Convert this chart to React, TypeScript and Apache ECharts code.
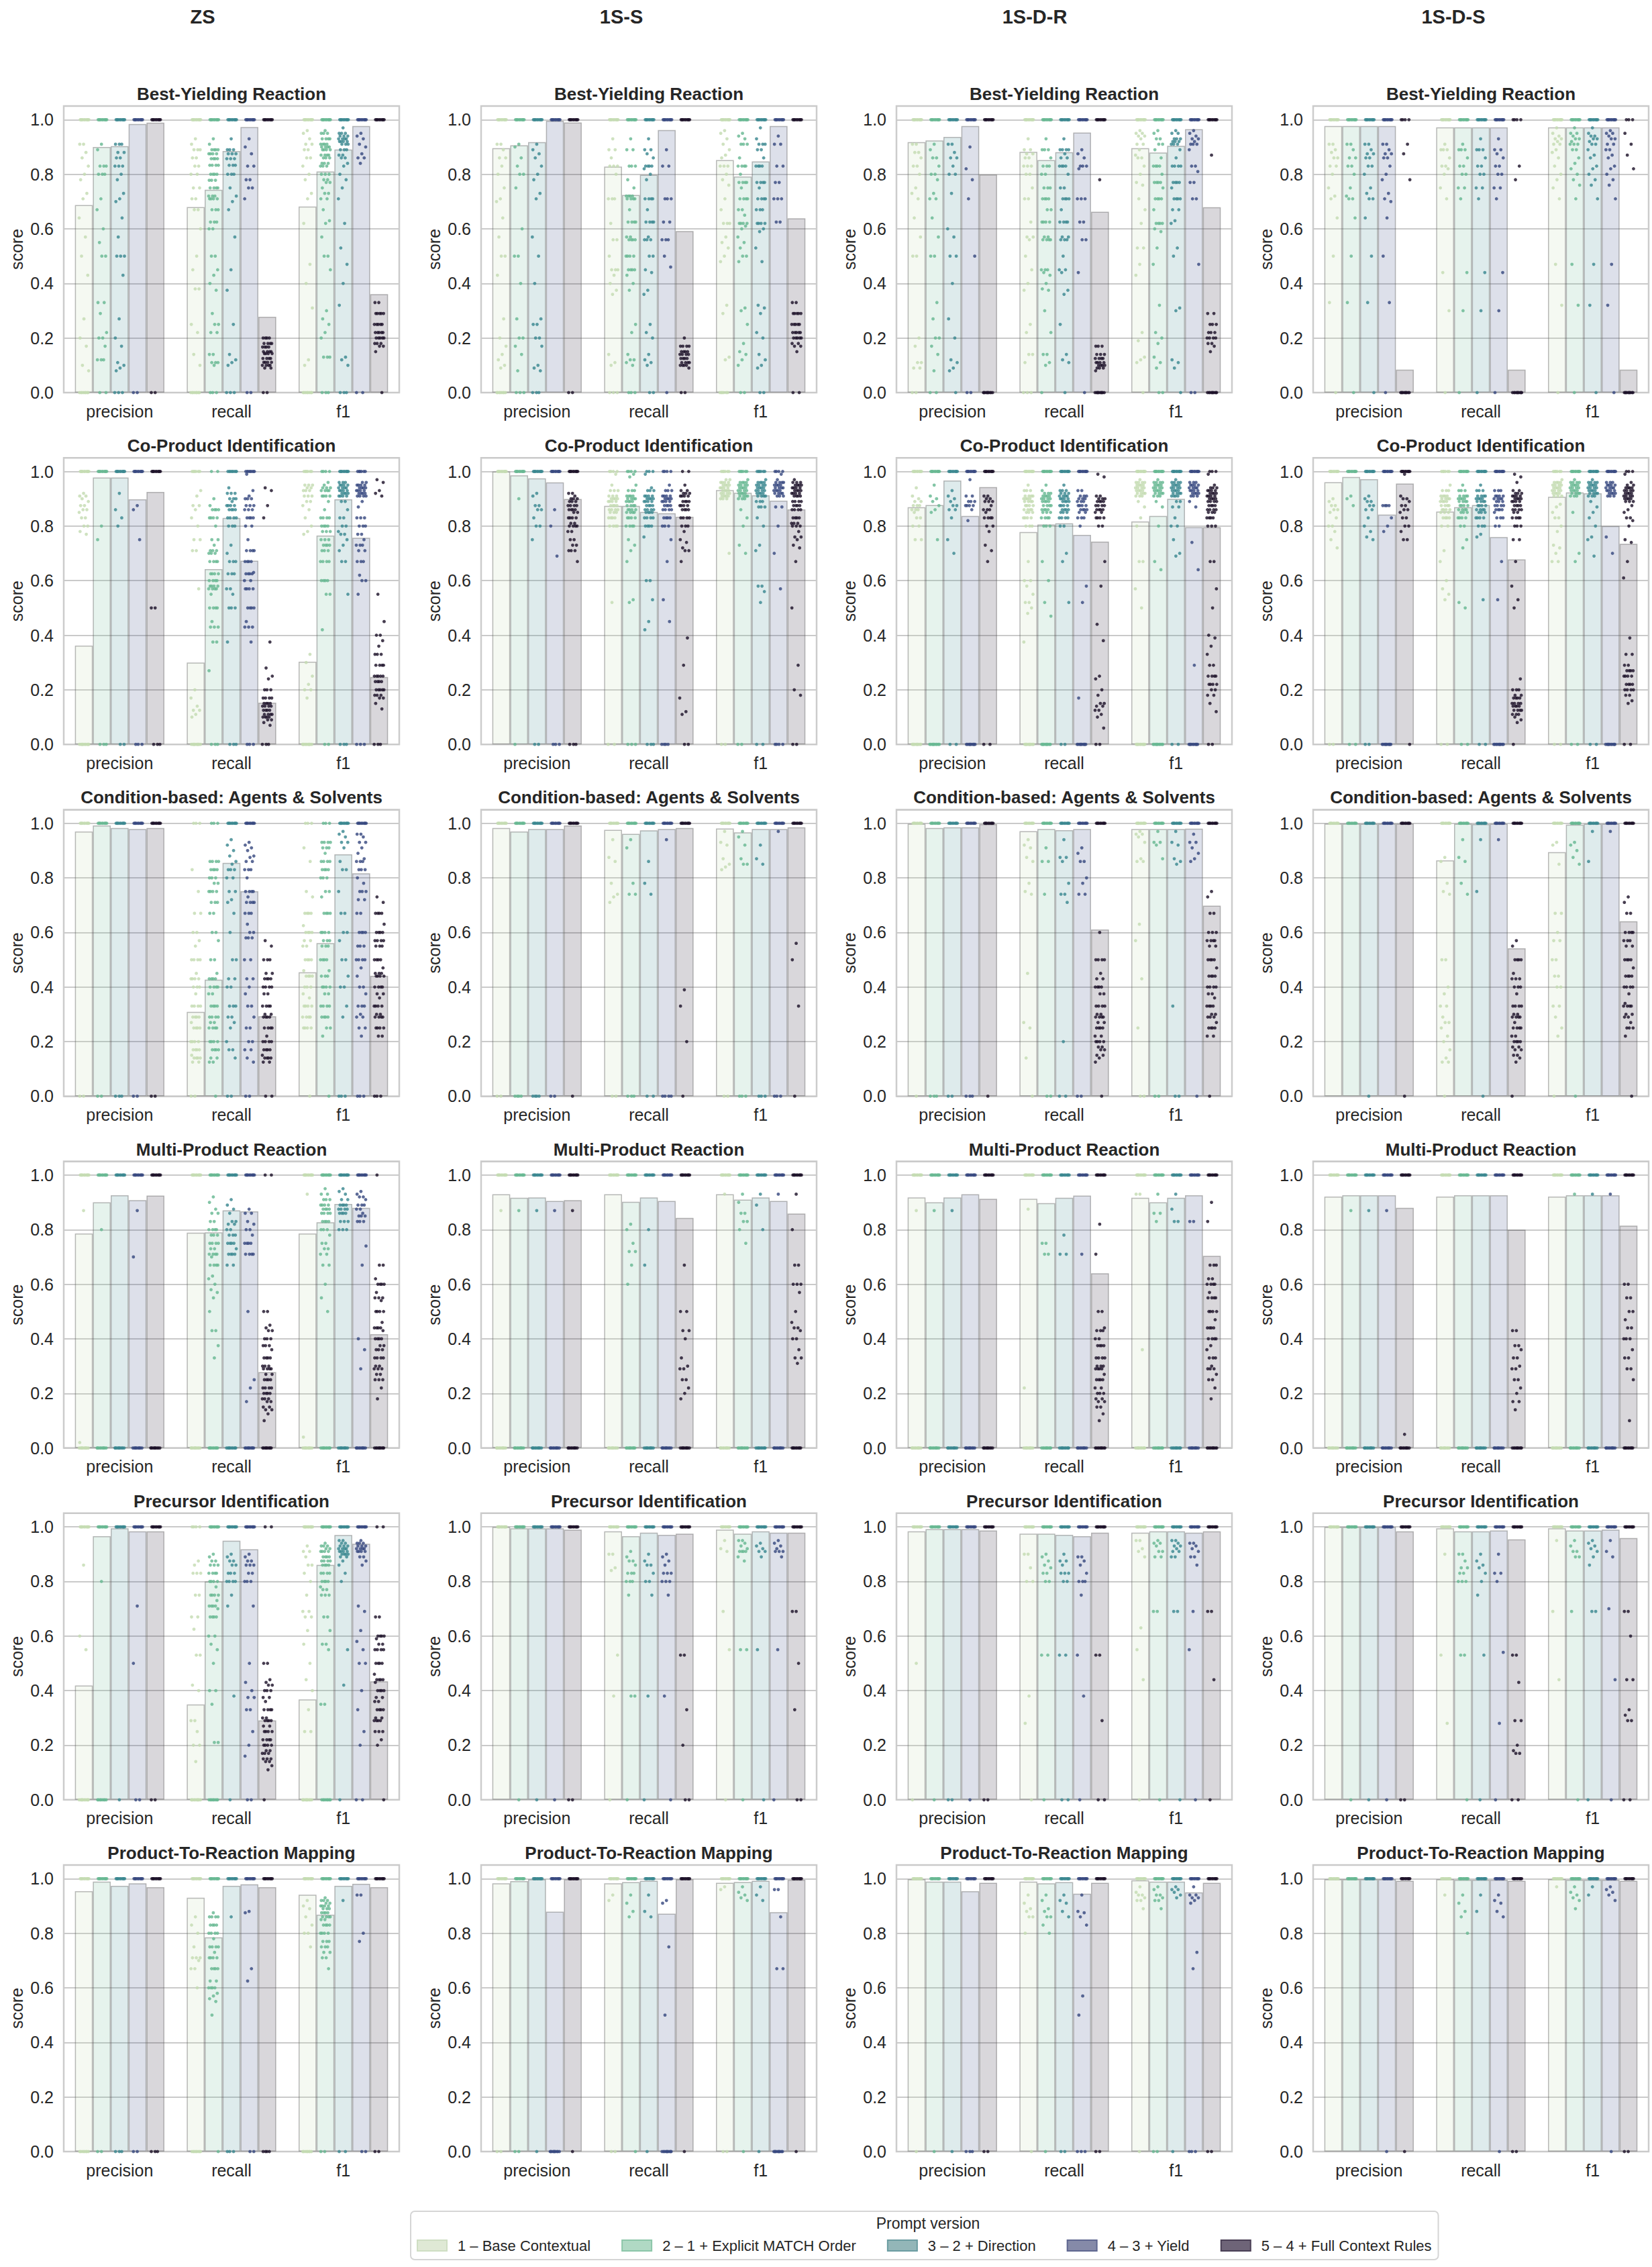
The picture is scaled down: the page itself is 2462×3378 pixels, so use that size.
import React, { useEffect, useRef } from "react";
import * as echarts from "echarts";

// ---------- labels ----------
const settings = ["ZS", "1S-S", "1S-D-R", "1S-D-S"];
const tasks = [
  "Best-Yielding Reaction",
  "Co-Product Identification",
  "Condition-based: Agents & Solvents",
  "Multi-Product Reaction",
  "Precursor Identification",
  "Product-To-Reaction Mapping",
];
const metrics = ["precision", "recall", "f1"];
const versions = [
  "1 – Base Contextual",
  "2 – 1 + Explicit MATCH Order",
  "3 – 2 + Direction",
  "4 – 3 + Yield",
  "5 – 4 + Full Context Rules",
];
const yTicks = [0, 0.2, 0.4, 0.6, 0.8, 1.0];

// ---------- bar means: [precision[v1..v5], recall[...], f1[...]] ----------
const m_BY_ZS = [[0.687, 0.9, 0.903, 0.984, 0.989], [0.68, 0.743, 0.885, 0.973, 0.278], [0.682, 0.81, 0.891, 0.977, 0.361]];
const m_BY_SS = [[0.896, 0.906, 0.918, 0.996, 0.99], [0.828, 0.724, 0.798, 0.962, 0.592], [0.852, 0.792, 0.847, 0.977, 0.639]];
const m_BY_DR = [[0.918, 0.924, 0.937, 0.977, 0.799], [0.882, 0.852, 0.881, 0.953, 0.663], [0.896, 0.88, 0.904, 0.965, 0.679]];
const m_BY_DS = [[0.977, 0.977, 0.977, 0.977, 0.084], [0.972, 0.972, 0.972, 0.972, 0.084], [0.972, 0.972, 0.972, 0.972, 0.084]];
const m_CP_ZS = [[0.362, 0.978, 0.978, 0.898, 0.925], [0.3, 0.642, 0.83, 0.673, 0.153], [0.303, 0.765, 0.898, 0.757, 0.247]];
const m_CP_SS = [[1.0, 0.986, 0.975, 0.96, 0.899], [0.874, 0.874, 0.852, 0.847, 0.834], [0.932, 0.922, 0.913, 0.893, 0.861]];
const m_CP_DR = [[0.869, 0.877, 0.967, 0.837, 0.943], [0.778, 0.806, 0.81, 0.768, 0.743], [0.817, 0.837, 0.9, 0.796, 0.796]];
const m_CP_DS = [[0.961, 0.98, 0.972, 0.842, 0.956], [0.853, 0.869, 0.877, 0.76, 0.678], [0.907, 0.923, 0.92, 0.8, 0.735]];
const m_CB_ZS = [[0.97, 0.992, 0.983, 0.979, 0.983], [0.309, 0.427, 0.855, 0.751, 0.293], [0.454, 0.561, 0.886, 0.817, 0.441]];
const m_CB_SS = [[0.983, 0.97, 0.979, 0.979, 0.992], [0.976, 0.961, 0.974, 0.979, 0.983], [0.981, 0.967, 0.979, 0.979, 0.985]];
const m_CB_DR = [[0.998, 0.983, 0.985, 0.985, 0.997], [0.971, 0.979, 0.975, 0.979, 0.611], [0.979, 0.979, 0.979, 0.98, 0.698]];
const m_CB_DS = [[0.999, 0.999, 0.998, 0.999, 0.999], [0.864, 0.998, 0.997, 0.998, 0.542], [0.894, 0.995, 0.998, 0.998, 0.641]];
const m_MP_ZS = [[0.786, 0.9, 0.926, 0.908, 0.925], [0.789, 0.79, 0.871, 0.867, 0.278], [0.786, 0.827, 0.894, 0.88, 0.417]];
const m_MP_SS = [[0.93, 0.917, 0.918, 0.905, 0.908], [0.93, 0.902, 0.918, 0.905, 0.843], [0.93, 0.91, 0.918, 0.905, 0.859]];
const m_MP_DR = [[0.918, 0.9, 0.918, 0.93, 0.913], [0.913, 0.897, 0.917, 0.925, 0.64], [0.917, 0.9, 0.917, 0.926, 0.704]];
const m_MP_DS = [[0.921, 0.926, 0.926, 0.926, 0.88], [0.921, 0.926, 0.926, 0.926, 0.8], [0.921, 0.926, 0.926, 0.926, 0.815]];
const m_PI_ZS = [[0.419, 0.966, 0.995, 0.984, 0.984], [0.349, 0.8, 0.949, 0.918, 0.291], [0.368, 0.861, 0.97, 0.938, 0.434]];
const m_PI_SS = [[1.0, 0.995, 0.995, 0.995, 0.99], [0.984, 0.966, 0.979, 0.971, 0.975], [0.99, 0.975, 0.984, 0.979, 0.979]];
const m_PI_DR = [[0.984, 0.992, 0.992, 0.992, 0.987], [0.975, 0.975, 0.971, 0.966, 0.979], [0.979, 0.984, 0.984, 0.979, 0.984]];
const m_PI_DS = [[1.0, 1.0, 1.0, 1.0, 0.984], [0.995, 0.984, 0.984, 0.987, 0.954], [0.995, 0.987, 0.987, 0.99, 0.959]];
const m_PR_ZS = [[0.954, 0.989, 0.974, 0.983, 0.969], [0.93, 0.785, 0.974, 0.979, 0.969], [0.941, 0.868, 0.974, 0.981, 0.969]];
const m_PR_SS = [[0.983, 0.991, 0.998, 0.879, 0.998], [0.983, 0.987, 0.992, 0.872, 0.998], [0.985, 0.988, 0.992, 0.877, 0.996]];
const m_PR_DR = [[0.998, 0.989, 0.989, 0.954, 0.985], [0.989, 0.983, 0.987, 0.945, 0.985], [0.994, 0.989, 0.989, 0.95, 0.985]];
const m_PR_DS = [[0.998, 0.998, 0.998, 0.998, 0.992], [0.998, 0.996, 0.996, 0.996, 0.992], [0.998, 0.996, 0.996, 0.996, 0.992]];

// ---------- individual scores ("value*count"), [metric][version] ----------
const p_BY_ZS = [
  ["1*10 .91*2 .88 .86 .83 .8 .78 .73 .71 .64 .57 .5 .43 .27 .2 .17 .1 .08 0*8",
   "1*10 .91 .89 .83*3 .8*3 .71 .67 .6 .55 .5*2 .33*2 .29 .22 .2*2 .17 .12*3 0*2",
   "1*10 .91*3 .88*2 .86*2 .83*3 .8 .78 .73 .71 .7 .64 .57 .5*3 .43 .27 .2 .17 .11 .1 .09 .08 0*3",
   "1*10 0*2", "1*10 0*2"],
  ["1*10 .93 .91 .89*3 .86*2 .83*2 .8*2 .75*2 .71*2 .67*2 .6 .5 .45 .38*2 .25 .22 .14 .1 0*8",
   "1*10 .93 .91 .89*4 .875*4 .857*4 .833*4 .8*4 .778*3 .75*4 .72*3 .71*4 .67*3 .625*3 .6*2 .5*2 .45 .43 .4 .375 .29 .25*2 .22*2 .14*2 .11*3 .1 0*3",
   "1*10 .93 .89*3 .875*3 .857*3 .833*3 .8*3 .75 .72 .7 .67 .57 .45 .375 .25 .14 .12 .11 .1 0*3",
   "1*10 .93 .9 .875 .83*2 .78*2 .75*2 .71 0*2",
   "1*10 .2*4 .18*4 .167*4 .15*4 .143*4 .125*4 .111*4 .1*4 .09*2 0*2"],
  ["1*10 .96 .95 .93 .91*2 .89*2 .86*2 .83 .8 .78 .73 .71 .62 .47 .4 .31 .12 .1 0*8",
   "1*10 .96 .95*3 .93*4 .91*4 .9*4 .89*4 .87*4 .86*3 .84*3 .83*3 .8*3 .78*2 .77*2 .75 .73*2 .71*2 .67 .63 .62 .57 .5*2 .45 .3 .27 .25 .22 .2 .13*3 0*3",
   "1*10 .97 .95*3 .94*3 .93*4 .92*4 .91*3 .89*3 .87*2 .86*2 .84 .83 .8 .78 .75 .71 .62 .53 .47 .4 .32 .13 .12 .1 0*3",
   "1*10 .95 .94 .93 .91 .9 .875 .86*2 .84 0*2",
   "1*10 .33*2 .29*5 .25*5 .22*5 .2*5 .18*3 .17*2 .15 0"],
];
const p_BY_SS = [
  ["1*10 .91*2 .89 .86*2 .83 .8 .75 .71 .7 .64 .57 .5*2 .43 .27 .2 .17 .14 .12 .1 .09 0*8",
   "1*10 .91 .9 .86 .83 .8*2 .75 .6 .5*2 .4 .27 .2*2 .17 .14 .08 0*3",
   "1*10 .91 .89 .875 .86 .83 .8 .78 .73 .71 .57 .5 .4 .27 .25*2 .2*2 .17 .1 .09 .08 0*3",
   "1*10", "1*10 0*2"],
  ["1*10 .93 .89*2 .86 .83*3 .8 .71*3 .62 .56*2 .5 .45*3 .43 .4 .375 .36 .14 .11 .1 0*3",
   "1*10 .93 .89*2 .83*3 .78 .75 .72*4 .71*4 .67 .625*4 .57*2 .56*4 .5*4 .45*4 .43 .4 .375 .25 .22 .14 .12*2 .11 .1 0*3",
   "1*10 .93 .89*2 .875 .86 .83*4 .82 .8 .78 .71*4 .67 .625*4 .57 .56*3 .5*2 .45 .44 .375 .36 .25 .22 .2 .14 .12 .11 .1 0*2",
   "1*10 .89 .83*2 .71*3 .625*2 .56*3 .5 .46 0",
   "1*10 .2 .17*4 .15*4 .14*4 .125*4 .11*4 .1*4 .09 0*2"],
  ["1*10 .96 .95 .93 .91 .89 .87 .86 .83*3 .8 .78 .76 .71 .67 .62*3 .57 .55 .53 .5 .48 .32 .29 .13 .12 0*6",
   "1*10 .95 .94 .93 .91*3 .86 .83*4 .8 .77*4 .75 .71*4 .67*2 .65 .62*4 .61 .6 .57 .55 .53 .5*2 .48 .31 .3 .25 .18 .15 .14 .12 .1 0*2",
   "1*10 .97 .93 .91*3 .89*2 .86 .83*4 .77*4 .75 .71*4 .67*3 .62*4 .6 .59 .53 .48 .32 .31 .29 .22 .2 .14 .12 .1 .09 0*2",
   "1*10 .94 .91*2 .83*2 .77*2 .71*3 .625*2",
   "1*10 .33*2 .29*5 .25*5 .22*5 .2*5 .18*2 .17*2 .15 0*2"],
];
const p_BY_DR = [
  ["1*10 .91*2 .88*2 .86 .83*2 .8 .75 .73 .71 .64 .57 .5*2 .2 .17 .11*2 .09*2 0*2",
   "1*10 .91 .89 .86*2 .83 .8*2 .78 .73 .71*2 .64 .57 .5*2 .33 .27 .2*2 .17 .14 .08 0*2",
   "1*10 .91*2 .88 .86*2 .83 .8*2 .73 .6 .57 .5*2 .4 .27 .2 .12 .11 .09 .08 0",
   "1*10 .9 .82 .78 .71 .5 0*2",
   "1*10 0*10"],
  ["1*10 .93 .89*2 .875*2 .86*2 .83*3 .8*2 .75 .71*2 .625 .57*2 .56 .5 .45 .4 .375 .25 .22 .14*2 .11 0*3",
   "1*10 .93 .89*3 .86 .83*3 .8*2 .75*3 .71*4 .67*2 .625*4 .57*2 .56*4 .45*3 .44 .43 .4 .38 .375 .3 .22 .14*2 .11 .1 0",
   "1*10 .93 .89*4 .875 .86*2 .83*4 .8 .75*2 .71*4 .67 .625*4 .57*2 .56*3 .5 .45*2 .44 .375 .36 .25 .14 .12 .11 0",
   "1*10 .89 .875 .86 .83*3 .82 .71*3 .625*2 .56*2 .44 0",
   "1*10 .78 .17*3 .14*3 .125*4 .11*4 .1*4 .09*3 .08 0*10"],
  ["1*10 .96 .95*2 .94*2 .93 .91*2 .89 .87 .86*2 .83 .8 .77 .76 .71 .67 .62 .53*2 .47 .43 .22 .19 .13 .12 .11 0",
   "1*10 .96 .95 .93*2 .91*2 .89 .86 .83*4 .8 .77*4 .75 .71*4 .67 .62*4 .6 .59 .53 .47 .32 .22 .2 .18 .13 .11 .09 0*2",
   "1*10 .96 .95*2 .93*3 .92*3 .91*3 .89 .86 .83*4 .77*4 .75 .71*4 .67*2 .63 .62 .53 .5 .31 .3 .12 .11 .09 0",
   "1*10 .96 .95 .94 .93*2 .92 .91*3 .89 .83*2 .81 .77*2 .71*2 .47 0*2",
   "1*10 .87 .29*2 .25*3 .22*3 .2*4 .18*2 .17 .15 0*10"],
];
const p_BY_DS = [
  ["1*10 .91*2 .89 .88 .86*2 .83*2 .8 .75 .72 .71 .64 .5 .33 0",
   "1*10 .91*2 .89 .86*2 .83*2 .8 .75 .72 .71*2 .64 .5 .33 0",
   "1*10 .91*2 .89 .875*2 .86*2 .83*2 .8 .75 .73 .71*2 .64 .5 .33 0",
   "1*10 .91*2 .89 .875*2 .86*2 .83 .8 .78 .73 .71 .7 .64 .5 .33 0",
   "1*4 .91 .875 .78 0*10"],
  ["1*10 .91 .89*3 .86 .83*2 .82 .8 .75 .71 .44 .3 0",
   "1*10 .91 .89*3 .86 .83*2 .8*2 .75*2 .71 .44 .3 0",
   "1*10 .93 .89*3 .86 .83*2 .8*2 .75*2 .71 .44 .3 0",
   "1*10 .93 .89*2 .875 .86 .83*2 .8*2 .75*2 .71 .44 .3 0",
   "1*4 .83 .78 0*10"],
  ["1*10 .97 .95 .94 .93*2 .92 .91*2 .89 .88 .86 .83 .8 .78 .75 .71 .47 .32 0",
   "1*10 .97 .95*2 .94 .93*2 .92 .91*3 .89*2 .86 .84 .82 .8 .78 .76 .71 .47 .32 0",
   "1*10 .97 .95 .94*2 .93*2 .92 .91*2 .89 .87 .86 .83 .82 .8 .78 .76 .71 .47 .32 0",
   "1*10 .96 .95*2 .94 .93*2 .91*2 .89*2 .87 .86 .83 .82 .8 .78 .76 .71 .47 .32 0",
   "1*3 .95 .91 .87 .82 0*10"],
];
const p_CP_ZS = [
  ["1*10 .92 .91*2 .9 .89 .875*2 .86*2 .85 .83*2 .8*2 .78 .77 0*10",
   "1*10 .8 .75 0*3", "1*10 .92 .86 .83 .8 0*2", "1*10 .875 .86 .75 0*3", "1*10 .5*2 0*3"],
  ["1*6 .93 .91 .875*2 .86 .83 .8 .75*2 .71*2 .57 .2 .17 .14 .125*2 .11 .1 0*10",
   "1*2 .9 .875 .86*4 .83*4 .8 .75*2 .73 .71*3 .7*3 .67*4 .625*4 .6*4 .58*4 .57*4 .55 .5*4 .45 .43*3 .375*2 .27 0*3",
   "1*8 .94 .92*3 .9*3 .89 .875*4 .86*4 .83*4 .8*3 .73 .7 .67*3 .625*3 .57*2 .55 .5*3 .375 0*3",
   "1*8 .99 .93 .91 .9*3 .875*3 .86*3 .83*4 .8*2 .75 .71*4 .67*4 .63 .625*4 .6*2 .57*4 .5*4 .45 .43*3 .375 0*3",
   ".94 .93 .875 .83 .375 .28 .25 .24 .2*3 .17*4 .15*4 .14*4 .125*4 .11*4 .1*4 .09*2 .08 .07 0*3"],
  ["1*6 .95*3 .94*2 .93*3 .91*3 .89*2 .875 .86 .83 .8 .78 .77 .33 .3 .25 .22 .2*2 .17 0*10",
   "1*4 .96 .95 .94*3 .93*4 .91*4 .89 .86 .83*4 .8*4 .78*3 .75*3 .73*4 .71*3 .67*4 .6*4 .55*2 .42 0*2",
   "1*10 .96*3 .95*4 .94*4 .93*4 .92*4 .91*4 .89*2 .86 .83*2 .8*2 .78 .77*2 .75 .73 .71 .67*2 .55 0*3",
   "1*6 .96*2 .95*4 .94*4 .93*4 .92*4 .91*4 .89 .87 .83*3 .8*3 .77*2 .75 .73*3 .71*2 .67*3 .62 .6*2 .55 0*3",
   ".97 .96 .93 .92 .91 .55 .45 .4*2 .38 .36 .33*3 .29*4 .25*5 .23*4 .2*5 .18*3 .17*2 .15 .13 0*3"],
];
const p_CP_SS = [
  ["1*10", "1*10 .9 0", "1*10 .92 .91 .875*2 .86*2 .83 .8*2 .75 0*2", "1*10 .86 .8 .69 0*3",
   "1*10 .92*2 .91 .9*3 .89*3 .875*4 .86*4 .85*2 .83*4 .81*2 .8*4 .78*2 .75*2 .73*2 .71*3 .67 0*3"],
  ["1*4 .99 .95 .93*3 .91*3 .9*4 .89*4 .875*4 .86*4 .85*3 .83*4 .8*4 .52 0*2",
   "1*4 .99 .98 .95 .93*3 .91*4 .9*4 .89*4 .875*4 .86*4 .85*4 .83*4 .8*4 .75 .73 .71 .67 .53 .52 0*3",
   "1*3 .99 .94 .93*3 .91*4 .9*4 .89*4 .875*4 .86*4 .85*4 .83*4 .8*4 .76 .6*2 .53 .45 .42 0*3",
   "1*4 .95 .93*3 .91*4 .9*4 .89*4 .875*4 .86*4 .83*4 .8*3 .75 .67 .53 .45 0*4",
   "1*2 .95 .93*2 .92*3 .91*4 .89*4 .875*4 .86*4 .83*4 .8*3 .78 .75 .74 .72 .71*2 .67 .39 .29 .17 .12 .11 0*2"],
  ["1*6 .97*2 .96*4 .95*4 .94*4 .93*4 .92*4 .91*4 .9*3 .7 0*2",
   "1*6 .97 .96*4 .95*4 .94*4 .93*4 .92*4 .91*4 .9*3 .86 .83 .8 .73 .7 0*2",
   "1*6 .97 .96*4 .95*4 .94*4 .93*4 .92*4 .91*4 .89*3 .87*3 .83 .8 .73 .71 .58*2 .56 .52 0*2",
   "1*4 .99 .97 .96*4 .95*4 .94*4 .93*4 .92*4 .91*3 .87*2 .8 .7 .57 0*4",
   ".97 .96*3 .95*4 .94*4 .93*4 .92*4 .91*4 .89*4 .875*4 .86*4 .83*4 .81*3 .8*3 .78 .76*2 .75 .73 .72 .67 .5 .29 .2 .18 0*2"],
];
const p_CP_DR = [
  ["1*10 .94 .91 .9 .89*2 .875*3 .86*3 .85 .83*2 .8*2 .75*2 0*10",
   "1*10 .95 .91 .9 .89 .875 .86 .85 .75 0*10",
   "1*10 .93 .91 .9 .89 .875*2 .86*2 .83 .75 .7 0*2",
   "1*10 .97 .91*2 .89*3 .875*4 .86 .82 0*10",
   "1*10 .91*2 .9*2 .89*3 .875 .86*3 .85 .83*4 .8*2 .78 .73 .71 .67 0*2"],
  ["1*10 .95 .93*3 .91*4 .9*4 .89*4 .875*4 .86*4 .85*3 .83*4 .8*3 .67 .6*2 .58 .55 .52*2 .5 .48 .375 0*10",
   "1*10 .95 .93 .92*3 .91*4 .9*4 .89*4 .875*4 .86*4 .85*3 .83*4 .8*3 .67 .6 .52 .47 0*10",
   "1*10 .95 .93*3 .92*3 .91*4 .9*4 .89*4 .875*4 .86*4 .85*3 .83*4 .8*2 .7 .67 .52 0*2",
   "1*10 .93*2 .91*3 .9*3 .89*3 .875*4 .86*4 .85*2 .83*3 .8 .58 .52 .17 0*10",
   ".99 .98 .91*2 .9*3 .89*4 .875*4 .86*4 .85*2 .83*4 .8*2 .67 .58 .44 .38 .25 .24 .2 .18 .15*2 .14*2 .125*2 .11 .1 .06 0*2"],
  ["1*10 .97 .96*4 .95*4 .94*4 .93*4 .92*4 .91*3 .89 .87 .83 .8 .67*2 .57 .5 0*10",
   "1*10 .97 .96*4 .95*4 .94*4 .93*4 .92*4 .91*3 .89 .87 .8 .67 .64 0*10",
   "1*10 .97 .96*4 .95*4 .94*4 .93*4 .92*4 .91*4 .89*2 .87*2 .83 .8*2 .75 .7 .69 0*2",
   "1*10 .96*3 .95*4 .94*4 .93*4 .92*4 .91*3 .89 .87 .74 .64 .29 0*10",
   "1*3 .99 .95 .94*3 .93*4 .92*4 .91*4 .9*4 .89*4 .875*4 .86*4 .85*3 .83*4 .8*3 .67*2 .57 .5 .4 .39 .36 .33 .29*2 .25*4 .22*4 .2*2 .18*2 .15 .12 0*2"],
];
const p_CP_DS = [
  ["1*10 .9 .89 .875*2 .86*2 .85 .83 .8*2 .78 .75 .72 0*2",
   "1*10 .91 .9 .875 0*2",
   "1*10 .91 .9 .89*2 .875*2 .86*2 .83 .8 .78 .76 .75 0*2",
   "1*10 .875*4 .83 .8 .78 0*10",
   "1*10 .99 .91 .9*2 .89 .875*2 .86*2 .85 .83*2 .8*2 .78 .75*2 0"],
  ["1*6 .95 .93*3 .91*4 .9*4 .89*4 .875*4 .86*4 .85*3 .83*4 .8*2 .71 .67 .6 .57 .55 .53 0*2",
   "1*10 .95 .93*3 .91*4 .9*4 .89*4 .875*4 .86*4 .85*3 .83*4 .8*2 .75 .72 .52 .5 0*2",
   "1*10 .95 .93*3 .91*4 .9*4 .89*4 .875*4 .86*4 .85*3 .83*4 .8*3 .77 .76 .53 0*2",
   "1*10 .93*3 .91*4 .9*4 .89*3 .875*4 .86*4 .85 .83*3 .8*2 .67 .53 0*10",
   ".99 .98 .96 .93*2 .92*3 .91*4 .9*4 .89*4 .875*4 .86*4 .85*2 .83*4 .8*3 .75*2 .67 .58 .53 .5 .24 .2*3 .18*2 .17*4 .15*4 .14*4 .125*4 .11*3 .1 .09 .08 0"],
  ["1*6 .97 .96*4 .95*4 .94*4 .93*4 .92*4 .91*3 .88 .87 .85 .83*2 .8 .78 .73 .72 .7 .67*2 0*2",
   "1*10 .97 .96*4 .95*4 .94*4 .93*4 .92*4 .91*3 .85 .7 .67 0*2",
   "1*10 .97 .96*4 .95*4 .94*4 .93*4 .92*4 .91*3 .89 .87 .85 .83 .8 .76 .75 .69 0*2",
   "1*10 .96*3 .95*4 .94*4 .93*4 .92*4 .91*3 .76 .7 0*10",
   "1*3 .99 .96 .95*2 .94*4 .93*4 .92*4 .91*4 .9*4 .89*3 .875 .86 .85 .83*2 .82 .8 .75 .74 .67 .61 .39 .33*2 .29*2 .27*4 .25*4 .22*4 .2*4 .18*2 .16 .15 0*2"],
];
const p_CB_ZS = [
  ["1*10 0*2", "1*10 0*2", "1*10 0*3", "1*10 0*2", "1*10 0*2"],
  ["1*3 .83 .75 .67*2 .6*2 .57 .55 .5*4 .45 .43*4 .4*3 .375 .33*4 .29*4 .27 .25*4 .2*4 .17*4 .15 .14*4 .125*2 0*2",
   "1*3 .86*4 .83*4 .8*3 .78*2 .75*4 .71*3 .67*2 .6*2 .57 .5*2 .45 .43*4 .4*4 .375*2 .33*4 .29*4 .27*2 .25*4 .2*4 .17*4 .14*2 .125*2 0",
   "1*10 .94 .92 .9 .88 .86 .85 .83*3 .8*2 .75*2 .72 .71 .67 .6 .5*2 .43*2 .4*2 .33*3 .29*2 .27 .25 .2 .17*2 .14 0*2",
   "1*10 .93 .92 .91 .9 .88 .875 .86*2 .83*3 .8 .75*4 .73 .71*4 .67*3 .63 .6*2 .58*3 .5*2 .43*2 .4 .375 .33*2 .29 .25*2 .2*2 .17*2 .14 .125 0*2",
   ".57 .55 .5*3 .45*2 .43*4 .4*4 .375*2 .33*4 .3*2 .29*4 .25*4 .22 .2*4 .17*4 .15 .14*4 .125*2 0*2"],
  ["1*3 .91 .86 .75 .73 .67*4 .625 .6*4 .57*2 .55*2 .5*4 .46 .44*4 .4*3 .375 .36 .33*4 .29*4 .25*4 0",
   "1*3 .93*4 .91*3 .89 .86*4 .83*4 .8*3 .75*2 .73 .67*4 .6*4 .57*3 .55*3 .5*4 .46 .44*3 .4*4 .375*2 .33*4 .29*4 .25*2 .22 0",
   "1*10 .97 .96 .95 .93*2 .91 .86 .83*2 .75 .67*2 .6*2 .57 .5*2 .44 .4*2 .33 .29 0*3",
   "1*10 .96*2 .95 .93*2 .91 .89 .87 .86*3 .83*3 .8 .78 .75*3 .72*2 .67*2 .6*4 .55*3 .5*4 .47 .44 .4*2 .375 .33*3 .3 .29*2 .25*2 .22 0*3",
   ".73 .71 .67*4 .63 .6*4 .57*4 .55*3 .5*4 .47 .45*3 .44*4 .4*4 .375*2 .36 .33*4 .3*2 .29*4 .25*4 .22*2 0*3"],
];
const p_CB_SS = [
  ["1*10 0*2", "1*10 0*4", "1*10 0*4", "1*10 0*2", "1*10 0"],
  ["1*10 .94 .875 .86 .78 .74 .73 .71 0*2", "1*10 .94 .91 .78 .74*2 0*3", "1*10 .86 .78 .74 0*2", "1*10 .94 0*4", "1*10 .39 .33 .2 0"],
  ["1*10 .97 .93 .92 .87 .85 .84 .83 0*2", "1*10 .97 .95 .92 .87 .85*2 0*3", "1*10 .92 .87 .85 0*3", "1*10 .97 0*3", "1*10 .56 .5 .33 0"],
];
const p_CB_DR = [
  ["1*10 0", "1*10 0*3", "1*10 0*2", "1*10 0*3", "1*10 0"],
  ["1*10 .94 .92 .91 .875 .86 .78 .75 .74 .45 .27 .25 .14 0",
   "1*10 .91 .86*2 .74 0*2",
   "1*10 .94 .875*2 .86 .78 .74*2 .71 .2 0*2",
   "1*10 .91 .89 .86*2 .8 .78 .74*2 0*2",
   "1*10 .6 .5*4 .45 .43*2 .4*4 .375*2 .33*4 .3*2 .29*4 .27*2 .25*4 .22*2 .2*4 .18*2 .17*2 .15*2 .14 .125 0"],
  ["1*10 .97 .96*2 .95 .93 .87 .86*2 .63 .57 .43 .25 0*2",
   "1*10 .97 .93*2 .92 .87 0*2",
   "1*10 .97 .93 .92 .87 .86 .85 .33 0*2",
   "1*10 .96 .93*2 .91 .89 .87 .86 0",
   "1*10 .75 .73 .67*2 .6*3 .57*4 .55*2 .5*4 .47 .44*4 .4*4 .375*2 .36 .33*4 .3*2 .29*3 .27 .25*4 .22*2 0"],
];
const p_CB_DS = [
  ["1*10", "1*10", "1*10 0", "1*10", "1*10 0"],
  ["1*10 .875 .86 .78 .75 .74 .5*2 .4 .375 .33*2 .29 .27*2 .25 .22 .2 .17 .14 .125*2 0",
   "1*10 .94 .875 .86 .78 .74",
   "1*10 .94 .75 0",
   "1*10 .94",
   "1*10 .57 .55 .5*4 .45 .43*3 .4*3 .375 .33*4 .3*2 .29*4 .27 .25*4 .22*2 .2*4 .18*2 .17*2 .15*2 .14 .125 0"],
  ["1*10 .93 .92 .85 .67*2 .6 .57*2 .5*2 .44*2 .4*2 .33*2 .29 .25 .22 0",
   "1*10 .93 .92 .9 .875 .85 0",
   "1*10 .97 .86",
   "1*10 .97",
   "1*10 .73 .71 .67*2 .6*4 .57*3 .55*2 .5*4 .47 .44*4 .4*4 .375 .34 .33*4 .3*2 .29*2 .27 .25*3 .22 0"],
];
const p_MP_ZS = [
  ["1*10 .87 .02 0*10", "1*10 .8 0*10", "1*10 0*10", "1*10 .87 .7 0*10", "1*10 0*10"],
  ["1*10 0*10",
   "1*10 .92 .9 .875 .86*2 .83*2 .8*4 .78*3 .75*4 .73*2 .71*4 .7 .67*4 .63 .62 .6 .58 .57 .55 .5 .43*2 .375 .33 0*10",
   "1*10 .91 .89 .875 .86 .83*2 .82*2 .8*2 .78*3 .75*4 .73 .71*4 .67*2 0*10",
   "1*10 .875 .86*2 .83 .82 .8*2 .78 .75*4 .71*4 .5 .25 .22 .17 0*10",
   "1*2 .5*2 .45 .44 .43*2 .4*3 .375*3 .36 .33*4 .3*3 .29*4 .27*2 .25*4 .22*4 .2*4 .18*3 .17*2 .15*2 .14*2 .125 .1 0*10"],
  ["1*10 .93 .04 0*10",
   "1*10 .95 .93*2 .91*3 .89*4 .875*4 .86*4 .83*4 .8*3 .78 .75*2 .73*2 .71*2 .67*2 .6 .55 .5 0*10",
   "1*10 .95 .94 .93 .91*2 .89*4 .875*4 .86*4 .83*3 .8*3 0*10",
   "1*10 .94 .93 .92*2 .91 .89*3 .875*2 .86 .85*3 .83*3 .74 .67 .4 .36 .29 0*10",
   "1 .67*2 .62 .6*4 .57 .55*3 .54 .5*4 .46 .44*4 .43 .4*4 .375*2 .36*3 .33*4 .3*2 .29*3 .27*2 .25*3 .22 .18 0*10"],
];
const p_MP_SS = [
  ["1*10 .87 0*10", "1*10 .87 0*10", "1*10 .87 0*10", "1*10 .87 0*10", "1*10 .87 0*10"],
  ["1*10 0*10", "1*10 .82 .8 .75 .72*2 .67 .6 0*10", "1*10 .8 .67 0*10", "1*10 0*10",
   "1*10 .67 .5*2 .43*2 .4 .33 .3 .29*2 .25*2 .22 .2 .18 0*10"],
  ["1*10 .93 0*10", "1*10 .93 .9 .86*2 .83*2 .8 .75 0*10", "1*10 .93 .89 .8 0*10", "1*10 .93 0*10",
   "1*10 .93 .8 .67*2 .6*3 .57 .5 .46 .44*2 .43 .4*2 .36 .33*2 .31 0*10"],
];
const p_MP_DR = [
  ["1*10 .87 0*10", "1*10 .87 0*10", "1*10 .87 0*10", "1*10 0*10", "1*10 0*10"],
  ["1*10 .875 .22 0*10", "1*10 .75*2 .71*2 0*10", "1*10 .78 .71*2 0*10", "1*10 .71 0*10",
   "1*10 .82 .71 .5*2 .44 .43*3 .4*2 .375*4 .33*4 .3*3 .29*4 .27 .25*4 .22*2 .2*3 .18*2 .17*2 .15*2 .125 .1 0*10"],
  ["1*10 .93*2 .36 0*10", "1*10 .93 .86*2 .83 0*10", "1*10 .93 .875 .83*2 0*10", "1*10 .83*2 0*10",
   "1*10 .9 .83 .67*3 .62*2 .6*4 .57 .55*4 .5*4 .47 .44*4 .4*4 .375 .36 .33*3 .3 .29*3 .27 .25*2 .22 .18 0*10"],
];
const p_MP_DS = [
  ["1*10 0*10", "1*10 .87 0*10", "1*10 .87 0*10", "1*10 .87 0*10", "1*10 .05 0*10"],
  ["1*10 0*10", "1*10 0*10", "1*10 0*10", "1*10 0*10",
   "1*10 .43*2 .375*2 .36 .33*2 .3 .29*2 .25*2 .22 .2 .17*2 .14 0*10"],
  ["1*10 0*10", "1*10 .93 0*10", "1*10 .93 0*10", "1*10 .93 0*10",
   "1*10 .6*2 .55*2 .5*2 .47 .44*2 .4*3 .36 .33*2 .29*2 .25 .1 0*10"],
];
const p_PI_ZS = [
  ["1*10 .86 .6 .55 0*10", "1*10 .8 0*8", "1*10 0", "1*10 .71 .5 0*2", "1*10 0*2"],
  ["1*4 .875 .86 .83*3 .75*2 .67*2 .625 .53*2 .42 .4 .29*2 .25 .2*2 .14 0*10",
   "1*10 .9 .89 .875*2 .86*3 .83*4 .8*4 .78 .75*4 .73 .71*4 .7 .67*4 .6*2 .57 .55 .5 .4*2 .35 .21*2 0*8",
   "1*10 .9 .89 .875*2 .86*2 .83*3 .8*4 .75 .71 .38 0",
   "1*10 .9 .89 .875*2 .86*3 .83*2 .8*3 .71 .5 .43 .4 .375*2 .33*2 .25 .2 .16 0*2",
   "1*2 .5*2 .44 .43 .42*2 .4*3 .375*2 .36 .33*4 .3*2 .29*4 .27*2 .25*4 .22*4 .2*4 .18*2 .17*3 .15*3 .14*2 .125 .11 0"],
  ["1*10 .93 .91*2 .89 .86*2 .83 .8 .75 .69*2 .67*2 .62 .57 .5 .44 .4 .33 .25*2 0*10",
   "1*10 .94 .93*3 .92*2 .91*4 .89*4 .875*4 .86*4 .83*4 .8*4 .78 .77*2 .75*3 .67*2 .62 .57*2 .55 .35*2 0*8",
   "1*10 .95*2 .94*2 .93*3 .92*4 .91*4 .9*4 .89*2 .875 .86 .83 .8 .55 .42 0",
   "1*10 .95 .94*3 .93*3 .92*4 .91*4 .89*2 .875 .86 .71 .69 .62 .58 .55 .5*2 .4 .33 .25 .2 0*2",
   "1*2 .67*2 .6*4 .59 .57*2 .55*4 .5*4 .46 .44*4 .43 .4*4 .375*2 .36*2 .33*4 .3*2 .29*4 .25*3 .22 .2 0"],
];
const p_PI_SS = [
  ["1*10", "1*10 0", "1*10 0", "1*10 0", "1*10 0*2"],
  ["1*10 .9*2 .85 .84 .53 .38 0", "1*10 .91 .89 .875*2 .86 .83*3 .8*3 .75 .38*2 0",
   "1*10 .9 .875 .86*2 .83 .8*2 .75 .38 0", "1*10 .9 .89 .875 .86 .83*3 .8*3 .75 .38 0", "1*10 .53*2 .33 .2 0*2"],
  ["1*10 .95 .92 .91 .69 .55 0", "1*10 .95*2 .94 .93 .92 .91*4 .89 .875 .55*2 0",
   "1*10 .94 .93 .92 .91*2 .89 .55 0", "1*10 .95 .94 .93 .92 .91*3 .89 .55 0", "1*10 .69*2 .5 .33 0*2"],
];
const p_PI_DR = [
  ["1*10 .5 0", "1*10 0", "1*10 0*2", "1*10 0", "1*10 0*2"],
  ["1*10 .9*2 .85 .8*2 .38 .28 0", "1*10 .9 .89 .875 .86 .85 .83*2 .8*2 .53*2 0",
   "1*10 .9 .875*2 .86 .83*3 .8*2 .53*2 0*2", "1*10 .89*2 .875 .86 .83 .8*3 .75 .53 .38 0", "1*10 .53*2 .29 0*2"],
  ["1*10 .95*2 .92 .91 .89 .63 .55 .44 0", "1*10 .95 .94*2 .93 .91*2 .89*2 .69*2 0",
   "1*10 .95*2 .94 .93*2 .92 .91*2 .89*2 .69*2 0", "1*10 .94*2 .93 .92 .91 .89*2 .86 .69 .55 0", "1*10 .69*2 .44 0"],
];
const p_PI_DS = [
  ["1*10", "1*10 0", "1*10 0", "1*10 0", "1*10 0*2"],
  ["1*10 .9 .53 .28", "1*10 .9*2 .875 .85*2 .83*2 .8*3 .53*2 0", "1*10 .9 .875 .86 .85 .83 .8 .75 .53 0",
   "1*10 .9 .83*2 .8 .54 .28 0", "1*10 .53*2 .43 .29*2 .2 .18 .17*2 0*2"],
  ["1*10 .95 .69 .44", "1*10 .95 .93 .91*2 .89*2 .69 0", "1*10 .95 .94 .93 .92 .91 .89 .86 .69*2 0",
   "1*10 .95 .91 .89 .7 .44 0", "1*10 .69*2 .6 .44*2 .33 .31 .29*2 0*2"],
];
const p_PR_ZS = [
  ["1*10 0*8", "1*10 0*2", "1*10 0*3", "1*10 0*2", "1*10 0*3"],
  ["1*10 .86 .83 .8 .75 .71*3 .7 .67*2 .6 0*8",
   "1*10 .875 .86*4 .83*4 .8*4 .78 .75*4 .73 .71*4 .67*4 .625*2 .6*4 .58 .57 .56 .55 .5 0",
   "1*10 .86 0*3", "1*10 .88 .875 .67 .625 0*2", "1*10 0*4"],
  ["1*10 .92 .9 .89 .86 .83 .8*2 .75 0*8",
   "1*10 .93 .92*3 .91*2 .9*4 .89*3 .875*4 .86*4 .85*2 .83*4 .8*4 .77*3 .75*3 .73*2 .71*2 .67 0*2",
   "1*10 .92 0*2", "1*10 .94*2 .8 .77 0*2", "1*10 0*2"],
];
const p_PR_SS = [
  ["1*10 0*2", "1*10 0*2", "1*10 0", "1*10 0*10", "1*10 0"],
  ["1*10 .94 .92 0*2", "1*10 .94 .91 .88 .86 0", "1*10 .94 .88 .86 0", "1*10 .92 .91 .75 .5 0*10", "1*10 0"],
  ["1*10 .97 .96 0*2", "1*10 .97 .95 .94 .93 .92 0", "1*10 .97 .94 .92 0", "1*10 .96*2 .86 .67*2 0*10", "1*10 0"],
];
const p_PR_DR = [
  ["1*10 0", "1*10 0", "1*10 0", "1*10 0*3", "1*10 0*2"],
  ["1*10 .94 .91 .89 .88 .86*2 .8 0", "1*10 .94 .92 .89 .88 .86*2 .83 .8 0", "1*10 .94 .92 .91 .88 .86 0*2",
   "1*10 .94 .88 .875 .86 .83 .57 .5 0*3", "1*10 0*2"],
  ["1*10 .97 .95 .94*2 .93 .92*2 .89 0", "1*10 .97 .96 .94*2 .93 .92*2 .89 0*2", "1*10 .97 .96*2 .95 .94 .93 0",
   "1*10 .97 .94*2 .93*2 .92 .91 .73 .67 0*3", "1*10 0*2"],
];
const p_PR_DS = [
  ["1*10", "1*10", "1*10", "1*10 0", "1*10 0"],
  ["1*10 .94", "1*10 .94 .91 .88 .86 .8", "1*10 .94 .88", "1*10 .94 .92 .91 .88 .86 0", "1*10 0*2"],
  ["1*10 .97", "1*10 .97 .95 .94 .93 .92 .89", "1*10 .97 .94", "1*10 .97 .96 .95 .94 .92 0", "1*10 0*2"],
];

const MEANS = [
  [m_BY_ZS, m_BY_SS, m_BY_DR, m_BY_DS],
  [m_CP_ZS, m_CP_SS, m_CP_DR, m_CP_DS],
  [m_CB_ZS, m_CB_SS, m_CB_DR, m_CB_DS],
  [m_MP_ZS, m_MP_SS, m_MP_DR, m_MP_DS],
  [m_PI_ZS, m_PI_SS, m_PI_DR, m_PI_DS],
  [m_PR_ZS, m_PR_SS, m_PR_DR, m_PR_DS],
];
const POINTS = [
  [p_BY_ZS, p_BY_SS, p_BY_DR, p_BY_DS],
  [p_CP_ZS, p_CP_SS, p_CP_DR, p_CP_DS],
  [p_CB_ZS, p_CB_SS, p_CB_DR, p_CB_DS],
  [p_MP_ZS, p_MP_SS, p_MP_DR, p_MP_DS],
  [p_PI_ZS, p_PI_SS, p_PI_DR, p_PI_DS],
  [p_PR_ZS, p_PR_SS, p_PR_DR, p_PR_DS],
];

// ---------- style ----------
const FONT = "'Liberation Sans', Arial, Helvetica, sans-serif";
const TEXT = "#262626";
const POINT_RGB = [[197, 220, 178], [104, 184, 146], [58, 135, 144], [56, 73, 128], [29, 18, 41]];
const LEGEND_FILL = ["#dfe9d5", "#b0d9c4", "#93b6b8", "#858aa8", "#6e6478"];
const LEGEND_BORDER = ["#cfdec3", "#8cc6a9", "#6b9ca1", "#5f6790", "#4a3f55"];

const GRID_LEFT = [95, 717, 1336, 1957];
const GRID_W = 500;
const GRID_TOP0 = 158;
const ROW_PITCH = 524.2;
const GRID_H = 427;
const COL_TITLE_X = [302, 926, 1542, 2166];
const JITTER = 0.045;
const DODGE = 0.16;

function parsePts(s: string): number[] {
  const out: number[] = [];
  for (const tok of s.trim().split(/\s+/)) {
    if (!tok) continue;
    const [v, n] = tok.split("*");
    const val = parseFloat(v);
    const cnt = n ? parseInt(n, 10) : 1;
    for (let i = 0; i < cnt; i++) out.push(val);
  }
  return out;
}

function buildOption() {
  const grid: any[] = [];
  const xAxis: any[] = [];
  const yAxis: any[] = [];
  const series: any[] = [];
  const title: any[] = [];

  settings.forEach((s, c) => {
    title.push({
      text: s, left: COL_TITLE_X[c], top: 25, textAlign: "center", textVerticalAlign: "middle", padding: 0,
      textStyle: { fontSize: 29, fontWeight: "bold", color: TEXT, fontFamily: FONT },
    });
  });

  for (let r = 0; r < tasks.length; r++) {
    for (let c = 0; c < settings.length; c++) {
      const g = r * settings.length + c;
      const left = GRID_LEFT[c];
      const top = GRID_TOP0 + r * ROW_PITCH;
      grid.push({ left, top, width: GRID_W, height: GRID_H, show: true, borderColor: "#cccccc", borderWidth: 2.5, backgroundColor: "transparent" });
      title.push({
        text: tasks[r], left: left + GRID_W / 2, top: top - 18, textAlign: "center", textVerticalAlign: "middle", padding: 0,
        textStyle: { fontSize: 26, fontWeight: "bold", color: TEXT, fontFamily: FONT },
      });
      xAxis.push({
        type: "category", gridIndex: g, data: metrics,
        axisLine: { show: false }, axisTick: { show: false }, splitLine: { show: false },
        axisLabel: { fontSize: 25, color: TEXT, margin: 15, fontFamily: FONT },
      });
      xAxis.push({ type: "value", gridIndex: g, min: -0.5, max: 2.5, show: false });
      yAxis.push({
        type: "value", gridIndex: g, min: 0, max: 1.05, interval: 0.2,
        name: "score", nameLocation: "middle", nameGap: 58,
        nameTextStyle: { fontSize: 25, color: TEXT, fontFamily: FONT },
        axisLine: { show: false }, axisTick: { show: false },
        axisLabel: {
          fontSize: 25, color: TEXT, margin: 15, fontFamily: FONT, showMaxLabel: false,
          formatter: (v: number) => (yTicks.some((t) => Math.abs(t - v) < 1e-6) ? v.toFixed(1) : ""),
        },
        splitLine: { show: true, lineStyle: { color: "#cacaca", width: 2 } },
      });

      const means = MEANS[r][c];
      const pts = POINTS[r][c];
      for (let v = 0; v < versions.length; v++) {
        const [R, G, B] = POINT_RGB[v];
        series.push({
          type: "bar", name: versions[v], xAxisIndex: 2 * g, yAxisIndex: g,
          data: metrics.map((_, m) => means[m][v]),
          barGap: "0%", barCategoryGap: "20%", silent: true,
          itemStyle: { color: `rgba(${R},${G},${B},0.17)`, borderColor: "rgba(90,90,90,0.42)", borderWidth: 1.5 },
        });
      }
      for (let v = 0; v < versions.length; v++) {
        const [R, G, B] = POINT_RGB[v];
        const data: number[][] = [];
        for (let m = 0; m < metrics.length; m++) {
          const vals = parsePts(pts[m][v]);
          vals.forEach((y, k) => {
            const frac = (k * 0.6180339887 + 0.29) % 1;
            const x = m + (v - 2) * DODGE + (frac - 0.5) * 2 * JITTER;
            data.push([x, y]);
          });
        }
        series.push({
          type: "scatter", name: versions[v], xAxisIndex: 2 * g + 1, yAxisIndex: g,
          data, symbol: "circle", symbolSize: 4.8, clip: false, silent: true, z: 3,
          itemStyle: { color: `rgb(${R},${G},${B})`, opacity: 0.82 },
        });
      }
    }
  }

  title.push({
    text: "Prompt version", left: 1383, top: 3313, textAlign: "center", textVerticalAlign: "middle", padding: 0,
    textStyle: { fontSize: 23, fontWeight: "normal", color: TEXT, fontFamily: FONT },
  });

  return {
    animation: false,
    backgroundColor: "#ffffff",
    title,
    grid,
    xAxis,
    yAxis,
    series,
    legend: {
      left: 612, top: 3295, orient: "horizontal",
      padding: [40, 10, 10, 9], itemGap: 46, itemWidth: 44, itemHeight: 16,
      borderColor: "#d5d5d5", borderWidth: 2, borderRadius: 6, backgroundColor: "#ffffff",
      selectedMode: false, icon: "rect",
      textStyle: { fontSize: 22, color: TEXT, fontFamily: FONT, padding: [0, 0, 0, 11] },
      data: versions.map((n, i) => ({
        name: n, icon: "rect",
        itemStyle: { color: LEGEND_FILL[i], borderColor: LEGEND_BORDER[i], borderWidth: 2, opacity: 1 },
      })),
    },
  };
}

export default function App() {
  const ref = useRef<HTMLDivElement>(null);
  useEffect(() => {
    if (!ref.current) return;
    const chart = echarts.init(ref.current, undefined, { renderer: "svg" });
    chart.setOption(buildOption() as any);
    return () => chart.dispose();
  }, []);
  return (
    <div
      ref={ref}
      style={{ position: "absolute", left: 0, top: 0, width: 2462, height: 3378, background: "#fff" }}
    />
  );
}
